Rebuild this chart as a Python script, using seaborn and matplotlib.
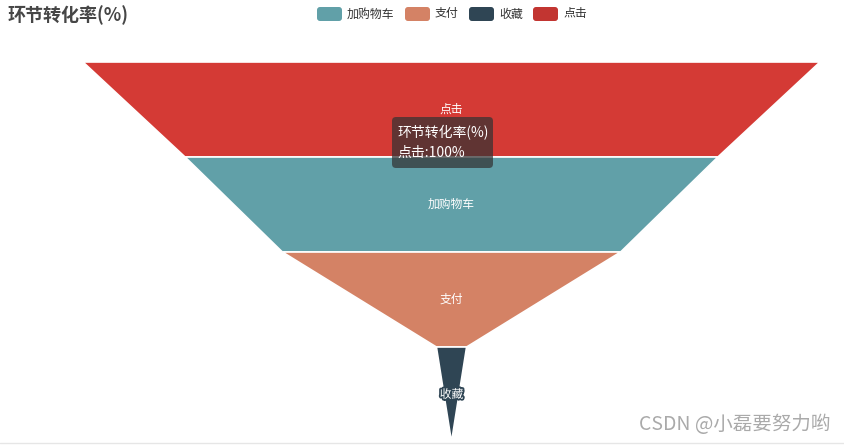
import matplotlib
matplotlib.use("Agg")
import matplotlib.pyplot as plt
import matplotlib.patheffects as pe
from matplotlib.patches import FancyBboxPatch
import seaborn as sns

# data
stages = ['点击', '加购物车', '支付', '收藏']
rates = [100, 72.3, 45.9, 4.1]
legend_order = ['加购物车', '支付', '收藏', '点击']
colors = {'加购物车': '#61a0a8', '支付': '#d48265', '收藏': '#2f4554', '点击': '#c23531'}
hover_color = '#d43a35'   # top layer is highlighted by the tooltip

sns.set_theme(style="white")
plt.rcParams['font.family'] = ['Noto Sans CJK SC', 'DejaVu Sans']

fig = plt.figure(figsize=(8.45, 4.45), dpi=100)
ax = fig.add_axes([0, 0, 1, 1])
ax.set_xlim(0, 845)
ax.set_ylim(445, 0)
ax.axis('off')

# funnel geometry (pixels)
cx = 451.5
full_w = 737
top = 62
h = 95
vmax = max(rates)

for i, (name, v) in enumerate(zip(stages, rates)):
    w_top = v / vmax * full_w
    w_bot = rates[i + 1] / vmax * full_w if i + 1 < len(rates) else 0
    y0 = top + i * h
    y1 = y0 + h
    xs = [cx - w_top / 2, cx + w_top / 2, cx + w_bot / 2, cx - w_bot / 2]
    ys = [y0, y0, y1, y1]
    c = hover_color if i == 0 else colors[name]
    ax.fill(xs, ys, color=c, edgecolor='white', linewidth=1.2, zorder=2)
    txt = ax.text(cx, (y0 + y1) / 2, name, color='white', fontsize=8.5,
                  ha='center', va='center', zorder=3)
    if name == '收藏':
        txt.set_path_effects([pe.withStroke(linewidth=2.5, foreground=colors[name])])

# title
ax.text(8, 15, '环节转化率(%)', fontsize=13, fontweight='bold', color='#464646',
        ha='left', va='center')

# legend
lx = [317, 405, 469, 533]
for x, name in zip(lx, legend_order):
    box = FancyBboxPatch((x, 7), 25, 14, boxstyle='round,pad=0,rounding_size=3',
                         facecolor=colors[name], edgecolor='none', zorder=3)
    ax.add_patch(box)
    ax.text(x + 30, 14, name, fontsize=8.6, color='#333333', ha='left', va='center')

# tooltip
tip = FancyBboxPatch((392, 117), 101, 51, boxstyle='round,pad=0,rounding_size=4',
                     facecolor=(0.2, 0.2, 0.2, 0.72), edgecolor='none', zorder=4)
ax.add_patch(tip)
ax.text(397, 133, '环节转化率(%)', fontsize=10, color='white', ha='left', va='center', zorder=5)
ax.text(397, 153, '点击:' + f'{rates[0]:g}%', fontsize=10, color='white',
        ha='left', va='center', zorder=5)

# watermark and bottom border
ax.text(830, 424, 'CSDN @小磊要努力哟', fontsize=14, color='#aaaaaa', ha='right', va='center')
ax.axhline(443, color='#e6e6e6', linewidth=1)

fig.savefig('out.png', dpi=100)
